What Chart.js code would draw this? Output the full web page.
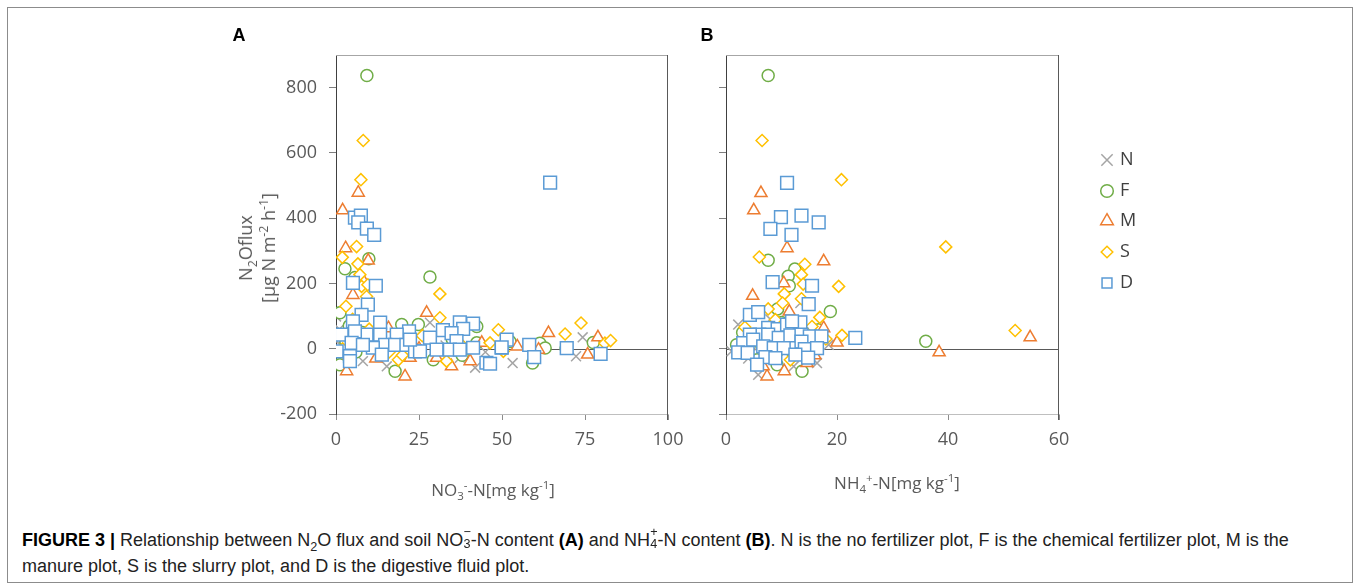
<!DOCTYPE html>
<html><head><meta charset="utf-8">
<script src="https://cdn.jsdelivr.net/npm/chart.js@4.4.0/dist/chart.umd.min.js"></script>
<style>
html,body{margin:0;padding:0;background:#fff;}
#wrap{position:relative;width:1360px;height:588px;overflow:hidden;background:#fff;font-family:'Open Sans',sans-serif;}
.frame{position:absolute;left:7px;top:7px;width:1346px;height:576px;border:1px solid #8c8c8c;box-sizing:border-box;}
canvas{position:absolute;}
.lbl{position:absolute;transform:translate(-50%,-50%);white-space:nowrap;}
.panel{font-family:'Liberation Sans',Arial,sans-serif;font-weight:bold;font-size:18px;color:#000;}
.axt{font-family:'Open Sans',sans-serif;font-size:17px;color:#595959;}
.axt sub,.axt sup{font-size:0.68em;line-height:0;}
.ytitle{position:absolute;left:257px;top:248px;transform:translate(-50%,-50%) rotate(-90deg);text-align:center;line-height:23px;white-space:nowrap;font-size:18px;}
.leg{position:absolute;left:1096px;font-family:'Open Sans',sans-serif;font-size:18px;color:#404040;height:24px;line-height:24px;transform:translateY(-50%);}
.leg canvas{position:relative;vertical-align:middle;margin-right:2px;}
.cap{position:absolute;left:22px;top:527px;font-family:'Liberation Sans',Arial,sans-serif;font-size:18px;color:#222;line-height:26px;white-space:nowrap;}
.cap b{color:#000;}
.ss{position:relative;display:inline-block;width:0.42em;height:0.8em;vertical-align:baseline;}
.ss .up{position:absolute;left:0.02em;top:-0.42em;font-size:0.7em;line-height:1;}
.ss .dn{position:absolute;left:0.02em;top:0.5em;font-size:0.7em;line-height:1;}
.cap sub{font-size:0.7em;line-height:0;}
</style>
</head><body>
<div id="wrap">
  <div class="frame"></div>
  <canvas id="cA" width="700" height="480" style="left:0;top:0;width:700px;height:480px"></canvas>
  <canvas id="cB" width="400" height="480" style="left:700px;top:0;width:400px;height:480px"></canvas>
  <div class="lbl panel" style="left:239px;top:35px">A</div>
  <div class="lbl panel" style="left:707px;top:35px">B</div>
  <div class="ytitle axt">N<sub>2</sub>Oflux<br>[μg N m<sup>-2</sup> h<sup>-1</sup>]</div>
  <div class="lbl axt" style="left:493px;top:489px">NO<sub>3</sub><sup>-</sup>-N[mg kg<sup>-1</sup>]</div>
  <div class="lbl axt" style="left:897px;top:482px">NH<sub>4</sub><sup>+</sup>-N[mg kg<sup>-1</sup>]</div>
  <div id="legend"></div>
  <div class="cap"><b>FIGURE 3 |</b> Relationship between N<sub>2</sub>O flux and soil NO<span class="ss"><span class="up">−</span><span class="dn">3</span></span>-N content <b>(A)</b> and NH<span class="ss"><span class="up">+</span><span class="dn">4</span></span>-N content <b>(B)</b>. N is the no fertilizer plot, F is the chemical fertilizer plot, M is the<br>manure plot, S is the slurry plot, and D is the digestive fluid plot.</div>
</div>
<script>
// ---------- data ----------
const seriesNames = ['N','F','M','S','D'];
const yTicks = [-200, 0, 200, 400, 600, 800];
const xTicksA = [0, 25, 50, 75, 100];
const xTicksB = [0, 20, 40, 60];

// Panel A: NO3-N [mg/kg] vs N2O flux
const A_N = [[0,99],[0.2,23],[8.1,-38],[15.3,-54],[28.3,80],[37.3,-28],[41.9,-58],[53.2,-44],[74.3,35],[72.3,-23],[1,60],[2,30],[3,-10],[5,10],[12,-20],[20,40],[25,70],[33,10],[45,-10],[60,5],[0.5,-5]];
const A_F = [[9.3,837],[9.9,276],[2.7,245],[5.7,218],[28.3,220],[1.2,110],[19.8,74],[24.8,74],[1.2,-49],[17.8,-69],[29.3,-34],[42.4,18],[42.4,68],[52.4,22],[61.4,17],[63,2],[59.2,-44],[69.3,2],[77.5,19],[3,20],[6,-10],[11,30],[14,5],[22,-15],[35,30],[38,-20],[4,70],[8,50]];
const A_M = [[6.7,478],[2,424],[2.9,308],[9.7,270],[8.2,209],[5.1,165],[27.3,110],[20.8,-85],[3.2,-69],[34.8,-54],[40.4,-38],[43.9,18],[30.3,-28],[22.3,-28],[15.8,63],[54.6,7],[64,48],[61,-3],[78.9,35],[75.8,-18],[7,100],[10,20],[12,-30],[25,0],[4,-20],[18,10]];
const A_S = [[8.2,638],[7.5,518],[6.2,313],[1.9,280],[6.6,260],[7.2,227],[7.7,191],[9.6,196],[31.3,168],[9.2,160],[31.3,95],[18.8,-34],[48.9,58],[46.4,18],[33.3,-38],[69,45],[73.8,79],[81,17],[82.7,25],[50.4,-8],[3,130],[5,90],[10,60],[13,30],[20,-20],[26,40],[38,10],[16,-10],[2,0]];
const A_D = [[64.5,509],[5.7,402],[7.5,408],[6.7,387],[9.3,368],[11.5,349],[5.1,202],[12,193],[9.6,135],[7.7,104],[13.3,80],[5.1,84],[37.3,81],[41.3,77],[38.3,61],[32.2,57],[34.8,48],[22,53],[18.3,43],[13.3,43],[9.2,43],[5.7,53],[1.7,43],[28.3,34],[36.3,23],[4.7,18],[14.8,12],[17.8,12],[21.2,12],[23.8,-8],[25.3,-8],[30.3,-3],[34.3,-3],[37.3,-3],[41.3,3],[49.9,3],[0.2,-8],[4.2,-23],[4.2,-38],[11.1,3],[13.8,-18],[45.3,-43],[8.1,12],[22.3,28],[51.4,28],[49.9,4],[58.2,12],[59.7,-26],[69.5,2],[79.7,-16],[46.4,-46]];

// Panel B: NH4-N [mg/kg] vs N2O flux
const B_N = [[2.2,74],[1,-8],[5.8,-80],[16.4,-44],[13.4,140],[18.5,12],[12.2,-54],[3,30],[6,10],[9,-20],[11,50],[14,20],[4,-30],[8,90],[15,-10]];
const B_F = [[7.6,837],[7.6,271],[12.4,244],[11.2,222],[11.4,193],[18.8,114],[9.3,122],[36,23],[13.7,-69],[1.9,12],[5.6,-34],[9.2,-49],[16.7,58],[10,80],[14,30],[6,20],[12,-10],[3,50]];
const B_M = [[6.3,477],[5,424],[11,308],[17.6,268],[10.4,201],[4.8,162],[11.4,114],[38.4,-11],[54.8,35],[7.4,-85],[10.5,-69],[20,19],[17.6,63],[6.7,-54],[14.6,-44],[9,40],[13,0],[4,10],[16,-20]];
const B_S = [[6.5,638],[20.8,518],[39.6,312],[52.1,56],[6,281],[14.2,259],[13.6,227],[20.3,191],[13.9,198],[10.5,168],[13.6,153],[10.2,140],[7.6,122],[16.9,96],[3.4,66],[20.9,41],[8.9,89],[15.5,68],[11.6,-34],[5,40],[12,10],[18,30],[9,-20]];
const B_D = [[11,508],[9.9,403],[13.6,408],[16.7,387],[8,367],[11.8,349],[8.4,204],[15.5,193],[14.9,137],[4.3,104],[5.8,112],[7.6,64],[9.3,60],[11,74],[13.4,81],[11.9,84],[6,43],[4.3,43],[7.6,43],[9.5,33],[11.6,41],[13.6,43],[15.1,38],[17.2,38],[3.1,17],[4.9,28],[6.7,7],[8.6,2],[10.4,2],[13.6,22],[14.2,-1],[16.4,2],[2.2,-11],[3.9,-13],[7.1,-26],[8.9,-29],[12.5,-18],[14.8,-27],[5.6,-49],[23.3,33]];

// ---------- styling ----------
const styles = {
  N:{color:'#A5A5A5', pointStyle:'crossRot', r:7, order:4},
  F:{color:'#70AD47', pointStyle:'circle', r:6, order:3},
  M:{color:'#ED7D31', pointStyle:'triangle', r:7, order:2},
  S:{color:'#FFC000', pointStyle:'rectRot', r:6, order:1},
  D:{color:'#5B9BD5', pointStyle:'rect', r:9, order:0}
};

function ds(name, arr){
  const s = styles[name];
  return {
    label:name,
    data:arr.map(p=>({x:p[0], y:p[1]})),
    pointStyle:s.pointStyle, pointRadius:s.r, pointHoverRadius:s.r,
    borderColor:s.color, backgroundColor:'#ffffff', borderWidth:1.5,
    showLine:false, order:s.order
  };
}

const framePlugin = {
  id:'frame',
  beforeDatasetsDraw(chart){
    const {ctx, chartArea:a, scales} = chart;
    const y0 = Math.round(scales.y.getPixelForValue(0)) + 0.5;
    ctx.save();
    ctx.lineWidth = 1;
    ctx.strokeStyle = '#a6a6a6';
    ctx.beginPath(); ctx.moveTo(a.left, a.top + 0.5); ctx.lineTo(a.right, a.top + 0.5); ctx.stroke();
    ctx.strokeStyle = '#595959';
    ctx.beginPath(); ctx.moveTo(Math.round(a.right) - 0.5, a.top); ctx.lineTo(Math.round(a.right) - 0.5, a.bottom + 6); ctx.stroke();
    ctx.strokeStyle = '#595959';
    ctx.beginPath(); ctx.moveTo(a.left, y0); ctx.lineTo(a.right, y0); ctx.stroke();
    ctx.restore();
  }
};

function makeChart(id, datasets, xTicks, showYLabels, yWidth, rightPad){
  return new Chart(document.getElementById(id), {
    type:'scatter',
    data:{datasets},
    options:{
      responsive:false, animation:false, devicePixelRatio:1,
      layout:{padding:{top:55, right:rightPad, left:0, bottom:0}},
      plugins:{legend:{display:false}, tooltip:{enabled:false}},
      scales:{
        x:{
          type:'linear', min:xTicks[0], max:xTicks[xTicks.length-1],
          afterBuildTicks(s){ s.ticks = xTicks.map(v=>({value:v})); },
          ticks:{color:'#595959', font:{family:'Open Sans', size:18}, padding:9},
          grid:{drawOnChartArea:false, drawTicks:true, tickLength:6, color:'#8c8c8c'},
          border:{display:true, color:'#bfbfbf', width:1},
          afterFit(s){ s.height = 66; }
        },
        y:{
          type:'linear', min:-200, max:900,
          afterBuildTicks(s){ s.ticks = yTicks.map(v=>({value:v})); },
          ticks:{display:showYLabels, color:'#595959', font:{family:'Open Sans', size:18}, padding:12},
          grid:{drawOnChartArea:false, drawTicks:true, tickLength:7, color:'#7f7f7f'},
          border:{display:true, color:'#404040', width:1},
          afterFit(s){ s.width = yWidth; }
        }
      }
    },
    plugins:[framePlugin]
  });
}

makeChart('cA', [ds('N',A_N), ds('F',A_F), ds('M',A_M), ds('S',A_S), ds('D',A_D)], xTicksA, true, 336, 32);
makeChart('cB', [ds('N',B_N), ds('F',B_F), ds('M',B_M), ds('S',B_S), ds('D',B_D)], xTicksB, false, 26, 41);

// ---------- legend ----------
const legendRowsY = [158, 189, 219, 250, 281];
const legendR = {N:8, F:6.3, M:7.3, S:5.8, D:7};
const legendEl = document.getElementById('legend');
seriesNames.forEach((n, i) => {
  const row = document.createElement('div');
  row.className = 'leg';
  row.style.top = legendRowsY[i] + 'px';
  const c = document.createElement('canvas');
  c.width = 22; c.height = 22; c.style.width = '22px'; c.style.height = '22px';
  row.appendChild(c);
  row.appendChild(document.createTextNode(n));
  legendEl.appendChild(row);
  const ctx = c.getContext('2d');
  ctx.strokeStyle = styles[n].color; ctx.fillStyle = '#fff'; ctx.lineWidth = 1.5;
  if (Chart.helpers && Chart.helpers.drawPoint) {
    Chart.helpers.drawPoint(ctx, {pointStyle:styles[n].pointStyle, radius:legendR[n], rotation:0, borderWidth:1.5}, 11, 11);
  }
});
</script>
</body></html>
